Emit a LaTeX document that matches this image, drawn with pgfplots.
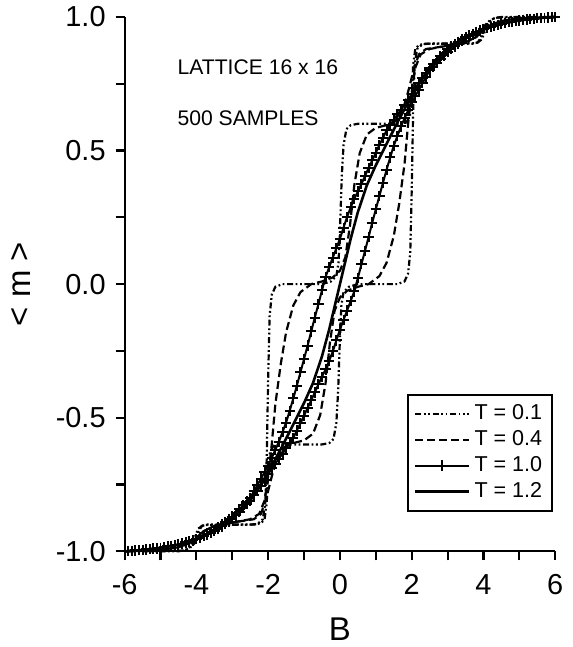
\documentclass[border=0pt]{standalone}
\usepackage{fontspec}
\setmainfont{Liberation Sans}
\usepackage{pgfplots}
\usepackage{pgfplotstable}
\pgfplotsset{compat=1.18}

% T = 1.0, field sweep up and down, step 0.1
\pgfplotstableread{
B up down
-6.0 -1.000 -1.000
-5.9 -0.999 -0.999
-5.8 -0.998 -0.998
-5.7 -0.997 -0.997
-5.6 -0.996 -0.996
-5.5 -0.995 -0.995
-5.4 -0.993 -0.993
-5.3 -0.992 -0.992
-5.2 -0.990 -0.990
-5.1 -0.989 -0.989
-5.0 -0.987 -0.987
-4.9 -0.985 -0.985
-4.8 -0.982 -0.982
-4.7 -0.980 -0.980
-4.6 -0.977 -0.977
-4.5 -0.975 -0.975
-4.4 -0.971 -0.971
-4.3 -0.967 -0.967
-4.2 -0.963 -0.963
-4.1 -0.959 -0.959
-4.0 -0.955 -0.955
-3.9 -0.949 -0.948
-3.8 -0.943 -0.941
-3.7 -0.937 -0.934
-3.6 -0.931 -0.927
-3.5 -0.925 -0.920
-3.4 -0.916 -0.910
-3.3 -0.907 -0.900
-3.2 -0.898 -0.890
-3.1 -0.889 -0.880
-3.0 -0.880 -0.870
-2.9 -0.866 -0.856
-2.8 -0.852 -0.842
-2.7 -0.838 -0.828
-2.6 -0.824 -0.814
-2.5 -0.810 -0.800
-2.4 -0.791 -0.776
-2.3 -0.773 -0.752
-2.2 -0.754 -0.728
-2.1 -0.734 -0.704
-2.0 -0.712 -0.680
-1.9 -0.690 -0.650
-1.8 -0.672 -0.620
-1.7 -0.653 -0.590
-1.6 -0.635 -0.554
-1.5 -0.615 -0.518
-1.4 -0.595 -0.474
-1.3 -0.575 -0.428
-1.2 -0.548 -0.380
-1.1 -0.521 -0.330
-1.0 -0.492 -0.280
-0.9 -0.463 -0.230
-0.8 -0.435 -0.177
-0.7 -0.405 -0.125
-0.6 -0.375 -0.075
-0.5 -0.347 -0.023
-0.4 -0.319 0.027
-0.3 -0.287 0.063
-0.2 -0.252 0.099
-0.1 -0.211 0.134
0.0 -0.170 0.170
0.1 -0.134 0.211
0.2 -0.099 0.252
0.3 -0.063 0.287
0.4 -0.027 0.319
0.5 0.023 0.347
0.6 0.075 0.375
0.7 0.125 0.405
0.8 0.177 0.435
0.9 0.230 0.463
1.0 0.280 0.492
1.1 0.330 0.521
1.2 0.380 0.548
1.3 0.428 0.575
1.4 0.474 0.595
1.5 0.518 0.615
1.6 0.554 0.635
1.7 0.590 0.653
1.8 0.620 0.672
1.9 0.650 0.690
2.0 0.680 0.712
2.1 0.704 0.734
2.2 0.728 0.754
2.3 0.752 0.773
2.4 0.776 0.791
2.5 0.800 0.810
2.6 0.814 0.824
2.7 0.828 0.838
2.8 0.842 0.852
2.9 0.856 0.866
3.0 0.870 0.880
3.1 0.880 0.889
3.2 0.890 0.898
3.3 0.900 0.907
3.4 0.910 0.916
3.5 0.920 0.925
3.6 0.927 0.931
3.7 0.934 0.937
3.8 0.941 0.943
3.9 0.948 0.949
4.0 0.955 0.955
4.1 0.959 0.959
4.2 0.963 0.963
4.3 0.967 0.967
4.4 0.971 0.971
4.5 0.975 0.975
4.6 0.977 0.977
4.7 0.980 0.980
4.8 0.982 0.982
4.9 0.985 0.985
5.0 0.987 0.987
5.1 0.989 0.989
5.2 0.990 0.990
5.3 0.992 0.992
5.4 0.993 0.993
5.5 0.995 0.995
5.6 0.996 0.996
5.7 0.997 0.997
5.8 0.998 0.998
5.9 0.999 0.999
6.0 1.000 1.000
}\tone

\begin{document}
\begin{tikzpicture}
\begin{axis}[
    width=216pt, height=268pt,
    scale only axis,
    xmin=-6, xmax=6, ymin=-1, ymax=1,
    axis x line*=bottom, axis y line*=left,
    axis line style={line width=1.1pt, -},
    xtick={-6,-4,...,6},
    minor xtick={-5,-3,...,5},
    ytick={-1,-0.5,0,0.5,1},
    minor ytick={-0.75,-0.25,0.25,0.75},
    tick align=outside,
    major tick length=4.5pt, minor tick length=4.5pt,
    every tick/.style={line width=1.1pt, black},
    /pgf/number format/assume math mode=true,
    tick label style={font=\fontsize{14.5}{16}\selectfont},
    yticklabel style={xshift=-1.5pt, /pgf/number format/.cd, fixed, fixed zerofill, precision=1},
    xticklabel style={yshift=-3.5pt},
    xlabel={B}, ylabel={< m >},
    label style={font=\fontsize{16.5}{18}\selectfont},
    xlabel style={at={(axis description cs:0.5,-0.1455)}, anchor=center},
    ylabel style={at={(axis description cs:-0.24,0.5)}, anchor=center},
    legend style={at={(rel axis cs:0.995,0.295)}, anchor=north east,
        draw=black, line width=1pt, font=\fontsize{10.8}{12}\selectfont,
        row sep=0pt, inner xsep=3pt, inner ysep=3pt, cells={anchor=west}},
    legend image code/.code={\draw[mark repeat=2, mark phase=2, #1]
        plot coordinates {(0pt,0pt) (13.5pt,0pt) (27pt,0pt)};},
    clip=false,
]
% T = 0.1
\addplot[black, line width=1.1pt,
    dash pattern=on 3pt off 1.3pt on 0.9pt off 1.3pt on 0.9pt off 1.3pt] coordinates {
(-6.0,-1.0) (-4.5,-1.0) (-4.3,-0.995) (-4.15,-0.98) (-4.05,-0.95) (-3.95,-0.915)
(-3.8,-0.902) (-2.4,-0.9) (-2.2,-0.895) (-2.1,-0.88) (-2.04,-0.82) (-2.0,-0.7)
(-1.95,-0.63) (-1.85,-0.605) (-1.6,-0.6) (-0.5,-0.6) (-0.3,-0.595) (-0.18,-0.58)
(-0.1,-0.52) (-0.05,-0.4) (0.0,-0.2) (0.04,-0.08) (0.1,-0.03) (0.25,-0.01)
(0.5,0.0) (1.6,0.0) (1.8,0.01) (1.9,0.04) (1.96,0.12) (2.0,0.35) (2.04,0.65)
(2.08,0.82) (2.15,0.88) (2.3,0.898) (2.5,0.9) (3.7,0.9) (3.85,0.905) (3.95,0.93)
(4.05,0.97) (4.2,0.99) (4.4,0.998) (6,1.0)
};
\addlegendentry{T = 0.1}
\addplot[black, line width=1.1pt, forget plot,
    dash pattern=on 3pt off 1.3pt on 0.9pt off 1.3pt on 0.9pt off 1.3pt] coordinates {
(6.0,1.0) (4.5,1.0) (4.3,0.995) (4.15,0.98) (4.05,0.95) (3.95,0.915)
(3.8,0.902) (2.4,0.9) (2.2,0.895) (2.1,0.88) (2.04,0.82) (2.0,0.7)
(1.95,0.63) (1.85,0.605) (1.6,0.6) (0.5,0.6) (0.3,0.595) (0.18,0.58)
(0.1,0.52) (0.05,0.4) (0.0,0.2) (-0.04,0.08) (-0.1,0.03) (-0.25,0.01)
(-0.5,0.0) (-1.6,0.0) (-1.8,-0.01) (-1.9,-0.04) (-1.96,-0.12) (-2.0,-0.35) (-2.04,-0.65)
(-2.08,-0.82) (-2.15,-0.88) (-2.3,-0.898) (-2.5,-0.9) (-3.7,-0.9) (-3.85,-0.905) (-3.95,-0.93)
(-4.05,-0.97) (-4.2,-0.99) (-4.4,-0.998) (-6,-1.0)
};
% T = 0.4
\addplot[black, line width=1.1pt, dash pattern=on 4pt off 2pt] coordinates {
(-6,-1.0) (-5,-0.995) (-4.5,-0.985) (-4.2,-0.97) (-4.0,-0.95) (-3.8,-0.925)
(-3.5,-0.905) (-2.9,-0.89) (-2.4,-0.88) (-2.2,-0.86) (-2.05,-0.8) (-1.9,-0.72)
(-1.75,-0.65) (-1.55,-0.61) (-1.3,-0.595) (-1.0,-0.585) (-0.75,-0.56) (-0.55,-0.49)
(-0.4,-0.37) (-0.28,-0.22) (-0.15,-0.1) (0.0,-0.05) (0.2,-0.025) (0.5,-0.01)
(0.8,0.0) (1.1,0.03) (1.3,0.08) (1.5,0.18) (1.65,0.3) (1.8,0.45) (1.9,0.6)
(2.0,0.72) (2.1,0.81) (2.25,0.86) (2.5,0.88) (2.9,0.89) (3.5,0.905) (3.8,0.925)
(4.0,0.95) (4.2,0.97) (4.5,0.985) (5,0.995) (6,1.0)
};
\addlegendentry{T = 0.4}
\addplot[black, line width=1.1pt, dash pattern=on 4pt off 2pt, forget plot] coordinates {
(6,1.0) (5,0.995) (4.5,0.985) (4.2,0.97) (4.0,0.95) (3.8,0.925)
(3.5,0.905) (2.9,0.89) (2.4,0.88) (2.2,0.86) (2.05,0.8) (1.9,0.72)
(1.75,0.65) (1.55,0.61) (1.3,0.595) (1.0,0.585) (0.75,0.56) (0.55,0.49)
(0.4,0.37) (0.28,0.22) (0.15,0.1) (0.0,0.05) (-0.2,0.025) (-0.5,0.01)
(-0.8,0.0) (-1.1,-0.03) (-1.3,-0.08) (-1.5,-0.18) (-1.65,-0.3) (-1.8,-0.45) (-1.9,-0.6)
(-2.0,-0.72) (-2.1,-0.81) (-2.25,-0.86) (-2.5,-0.88) (-2.9,-0.89) (-3.5,-0.905) (-3.8,-0.925)
(-4.0,-0.95) (-4.2,-0.97) (-4.5,-0.985) (-5,-0.995) (-6,-1.0)
};
% T = 1.0
\addplot[black, line width=1pt, mark=+, mark size=2.6pt,
    mark options={line width=1pt}] table[x=B, y=up] {\tone};
\addlegendentry{T = 1.0}
\addplot[black, line width=1pt, mark=+, mark size=2.6pt, forget plot,
    mark options={line width=1pt}] table[x=B, y=down] {\tone};
% T = 1.2
\addplot[black, line width=1.3pt] coordinates {
(-6,-1.0) (-5.5,-0.995) (-5,-0.987) (-4.5,-0.975) (-4,-0.955) (-3.5,-0.925)
(-3,-0.88) (-2.5,-0.81) (-2.2,-0.75) (-1.9,-0.68) (-1.6,-0.605) (-1.3,-0.525)
(-1.0,-0.445) (-0.75,-0.37) (-0.5,-0.27) (-0.3,-0.17) (-0.15,-0.085) (0,0)
(0.15,0.085) (0.3,0.17) (0.5,0.27) (0.75,0.37) (1.0,0.445) (1.3,0.525)
(1.6,0.605) (1.9,0.68) (2.2,0.75) (2.5,0.81) (3,0.88) (3.5,0.925) (4,0.955)
(4.5,0.975) (5,0.987) (5.5,0.995) (6,1.0)
};
\addlegendentry{T = 1.2}
\node[anchor=west, font=\fontsize{10.6}{12}\selectfont] at (axis cs:-4.72,0.81) {LATTICE 16 x 16};
\node[anchor=west, font=\fontsize{10.6}{12}\selectfont] at (axis cs:-4.72,0.62) {500 SAMPLES};
\coordinate (sw) at (rel axis cs:0,0);
\coordinate (ne) at (rel axis cs:1,1);
\end{axis}
\path ([shift={(-62.5pt,-47pt)}]sw) rectangle ([shift={(8.5pt,8.5pt)}]ne);
\end{tikzpicture}
\end{document}
